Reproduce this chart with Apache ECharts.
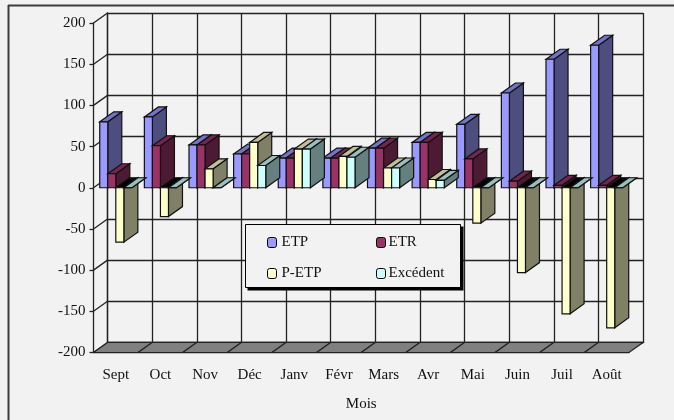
<!DOCTYPE html>
<html><head><meta charset="utf-8">
<style>html,body{margin:0;padding:0;background:#f2f2f2}#c{width:674px;height:420px}</style>
<script src="https://cdn.jsdelivr.net/npm/echarts@6/dist/echarts.min.js"></script>
</head><body><div id="c"></div>
<script>
const months = ['Sept','Oct','Nov','Déc','Janv','Févr','Mars','Avr','Mai','Juin','Juil','Août'];
const etp = [80,86,52,41,36,36,48,55,77,115,156,173];
const etr = [17,51,52,41,36,36,48,55,35,8,3,3];
const petp = [-66,-35,23,55,47,38,24,10,-43,-103,-153,-170];
const excedent = [0,0,0,27,47,37,24,9,0,0,0,0];
const yTicks = [-200,-150,-100,-50,0,50,100,150,200];
const seriesNames = ['ETP','ETR','P-ETP','Excédent'];
const seriesData = [etp,etr,petp,excedent];
const faces = [
  {front:'#9999ff',top:'#7373c8',side:'#4d4d80',under:'#7373c8'},
  {front:'#993366',top:'#73264d',side:'#4d1a33',under:'#73264d'},
  {front:'#ffffcc',top:'#bfbf99',side:'#808066',under:'#000000'},
  {front:'#ccffff',top:'#99bfbf',side:'#668080',under:'#99bfbf'}
];
const DX = 14, DY = -10;
const L = 93.5, R = 629, T = 23, B = 352.5;
const ln = {stroke:'#222',lineWidth:1.3};

function barItem(si){
  return function(params, api){
    const i = api.value(0), v = api.value(1);
    const c = api.coord([i, v]), z = api.coord([i, 0]);
    const cw = api.size([1,0])[0];
    const bw = cw * 0.18;
    const x0 = c[0] - 2*bw + si*bw, x1 = x0 + bw;
    const yTop = Math.min(c[1], z[1]), yBot = Math.max(c[1], z[1]);
    const f = faces[si];
    const topColor = v < 0 ? f.under : f.top;
    const poly = (pts, fill) => ({type:'polygon', shape:{points:pts}, style:{fill, stroke:'#111', lineWidth:1.2}});
    return {type:'group', children:[
      poly([[x1,yTop],[x1+DX,yTop+DY],[x1+DX,yBot+DY],[x1,yBot]], f.side),
      poly([[x0,yTop],[x0+DX,yTop+DY],[x1+DX,yTop+DY],[x1,yTop]], topColor),
      poly([[x0,yTop],[x1,yTop],[x1,yBot],[x0,yBot]], f.front)
    ]};
  };
}

function frameItem(params, api){
  const v = api.value(0);
  const p = api.coord([0, v]);
  const x = p[0] - api.size([1,0])[0]/2;
  return {type:'line', shape:{x1:x,y1:p[1],x2:x+DX,y2:p[1]+DY}, style:ln};
}
function floorItem(params, api){
  const i = api.value(0);
  const b = api.coord([i, -200]);
  const w = api.size([1,0])[0];
  const x = b[0]-w/2;
  return {type:'polygon', shape:{points:[[x,b[1]],[x+DX,b[1]+DY],[x+w+DX,b[1]+DY],[x+w,b[1]]]},
    style:{fill:'#808080',stroke:'#222',lineWidth:1.2}};
}

const series = [
  {type:'custom', name:'wall', xAxisIndex:0, yAxisIndex:0, data:yTicks.map(v=>[v]), renderItem:frameItem, clip:false, silent:true, z:1, encode:{y:0}},
  {type:'custom', name:'floor', xAxisIndex:0, yAxisIndex:0, data:months.map((m,i)=>[i]), renderItem:floorItem, clip:false, silent:true, z:1, encode:{x:0}}
];
seriesNames.forEach((n,si)=>{
  series.push({
    type:'custom', name:n, xAxisIndex:0, yAxisIndex:0, clip:false, z:2+si,
    itemStyle:{color:faces[si].front},
    data:seriesData[si].map((v,i)=>[i,v]), renderItem:barItem(si), encode:{x:0,y:1}
  });
});

const textStyle = {fontFamily:'Liberation Serif', fontSize:15, color:'#111'};
const axisLn = {color:'#222',width:1.3};
const chart = echarts.init(document.getElementById('c'), null, {renderer:'canvas'});
chart.setOption({
  animation:false,
  backgroundColor:'#f2f2f2',
  grid:[
    {left:L, top:T, width:R-L, height:B-T},
    {left:L+DX, top:T+DY, width:R-L, height:B-T}
  ],
  xAxis:[
    {type:'category', gridIndex:0, data:months, boundaryGap:true,
     axisLine:{onZero:false,lineStyle:axisLn}, axisTick:{show:false},
     axisLabel:{...textStyle, margin:15, interval:0},
     name:'Mois', nameLocation:'middle', nameGap:44, nameTextStyle:textStyle, splitLine:{show:false}},
    {type:'category', gridIndex:1, data:months, boundaryGap:true,
     axisLine:{show:true,onZero:false,lineStyle:axisLn}, axisTick:{show:false}, axisLabel:{show:false},
     splitLine:{show:true,interval:0,lineStyle:axisLn}}
  ],
  yAxis:[
    {type:'value', gridIndex:0, min:-200, max:200, interval:50,
     axisLine:{show:true,lineStyle:axisLn}, axisTick:{show:true,length:4,lineStyle:axisLn},
     axisLabel:{...textStyle, margin:8}, splitLine:{show:false}},
    {type:'value', gridIndex:1, min:-200, max:200, interval:50,
     axisLine:{show:true,lineStyle:axisLn}, axisTick:{show:false}, axisLabel:{show:false},
     splitLine:{show:true,lineStyle:axisLn}}
  ],
  legend:[
    {data:['ETP','P-ETP'], orient:'vertical', left:267, top:235, itemWidth:9, itemHeight:10, itemGap:16,
     textStyle:{...textStyle,padding:[0,0,0,0]}, z:8, padding:0, selectedMode:false,
     itemStyle:{borderColor:'#000',borderWidth:1}},
    {data:['ETR','Excédent'], orient:'vertical', left:376, top:235, itemWidth:9, itemHeight:10, itemGap:16,
     textStyle:{...textStyle,padding:[0,0,0,-2]}, z:8, padding:0, selectedMode:false,
     itemStyle:{borderColor:'#000',borderWidth:1}}
  ],
  graphic:[
    {type:'line', z:9, shape:{x1:8,y1:5.5,x2:674,y2:5.5}, style:{stroke:'#3c3c3c',lineWidth:2}},
    {type:'line', z:9, shape:{x1:8.5,y1:5,x2:8.5,y2:420}, style:{stroke:'#3c3c3c',lineWidth:2}},
    {type:'rect', z:6, shape:{x:247.5,y:226.5,width:216,height:64}, style:{fill:'#000'}},
    {type:'rect', z:7, shape:{x:245.5,y:224.5,width:215,height:63}, style:{fill:'#f2f2f2',stroke:'#000',lineWidth:1}}
  ],
  series
});
</script></body></html>
